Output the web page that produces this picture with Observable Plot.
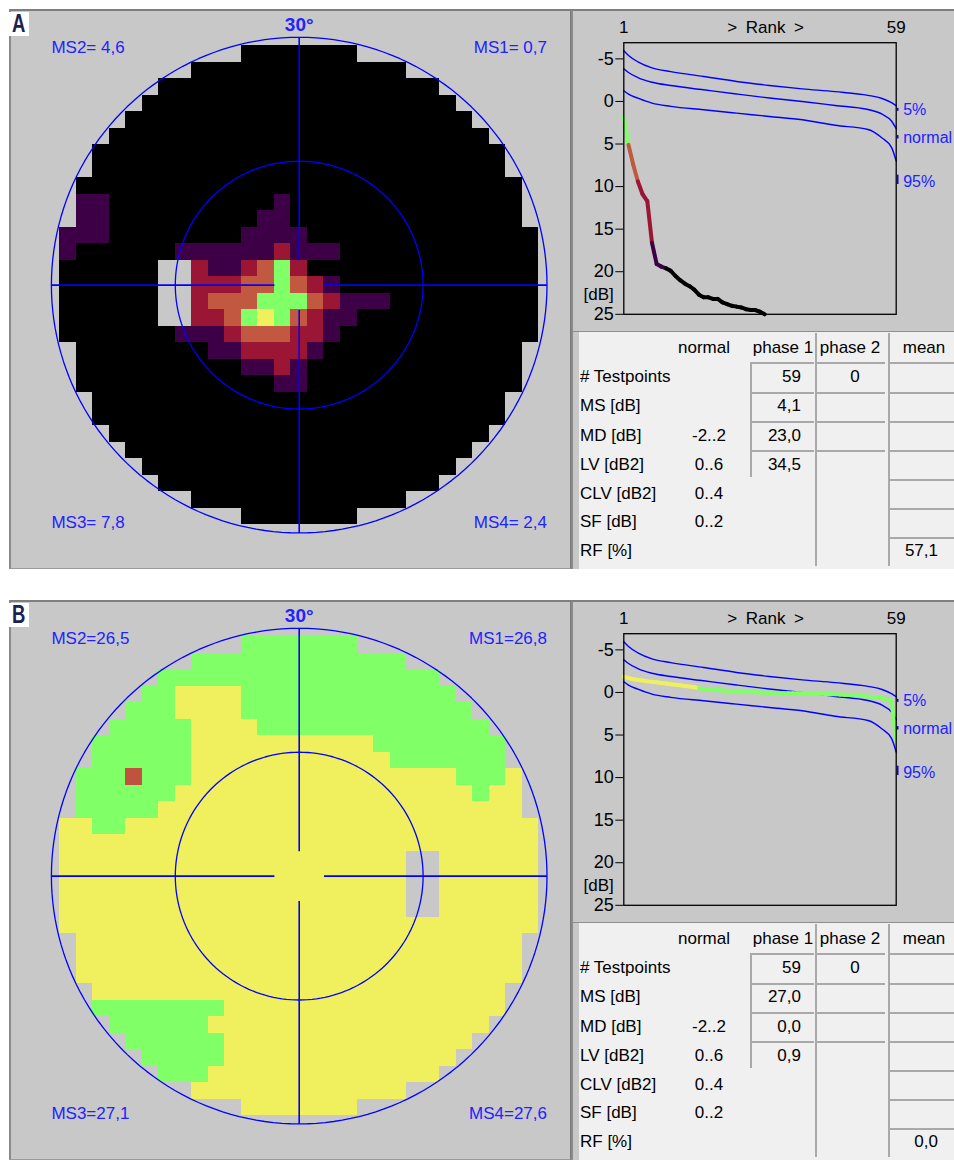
<!DOCTYPE html>
<html>
<head>
<meta charset="utf-8">
<script src="https://cdn.jsdelivr.net/npm/d3@7"></script>
<script src="https://cdn.jsdelivr.net/npm/@observablehq/plot@0.6"></script>
<style>
html,body{margin:0;padding:0;background:#fff;}
#root{position:relative;width:954px;height:1162px;overflow:hidden;background:#fff;font-family:"Liberation Sans",Arial,Helvetica,sans-serif;}
.b{position:absolute;box-sizing:border-box;}
.t{position:absolute;white-space:nowrap;font-size:17px;line-height:22px;height:22px;color:#000;}
svg{display:block;}
</style>
</head>
<body>
<div id="root"></div>
<script>
// ---------------- DATA ----------------
const panelLetters = ["A", "B"];

// Visual-field grid (29 x 29 cells of 2°), run-length rows: count + code
// K black, P purple, R crimson, O orange, G green, Y yellow, X red-brown, . no test (grey)
const mapRowsA = [
  "11. 7K 11.", "8. 13K 8.", "6. 17K 6.", "5. 19K 5.", "4. 21K 4.", "3. 23K 3.",
  "2. 25K 2.", "2. 25K 2.", "1. 27K 1.",
  "1. 2P 10K 1P 14K 1.",
  "1. 2P 9K 2P 14K 1.",
  "3P 8K 4P 14K",
  "1P 6K 6P 1R 3P 12K",
  "6K 2. 1R 2P 1R 1O 1G 1R 14K",
  "6K 2. 3R 2O 1G 1O 1R 1P 12K",
  "6K 2. 1R 3O 3G 1O 1R 3P 9K",
  "6K 2. 2R 1O 1G 1Y 1G 1O 1R 2P 11K",
  "7K 3P 1R 3O 2R 1P 12K",
  "1. 8K 2P 4R 1P 12K 1.",
  "1. 10K 2P 1R 1P 13K 1.",
  "1. 12K 2P 13K 1.",
  "2. 25K 2.", "2. 25K 2.", "3. 23K 3.", "4. 21K 4.", "5. 19K 5.", "6. 17K 6.",
  "8. 13K 8.", "11. 7K 11."
];
const mapRowsB = [
  "11. 7G 11.", "8. 13G 8.", "6. 17G 6.",
  "5. 2G 4Y 13G 5.",
  "4. 3G 4Y 14G 4.",
  "3. 5G 4Y 14G 3.",
  "2. 6G 11Y 8G 2.",
  "2. 6G 12Y 7G 2.",
  "1. 3G 1X 3G 16Y 3G 1Y 1.",
  "1. 6G 18Y 1G 2Y 1.",
  "1. 5G 22Y 1.",
  "2Y 2G 25Y",
  "29Y",
  "21Y 2. 6Y", "21Y 2. 6Y", "21Y 2. 6Y", "21Y 2. 6Y",
  "29Y",
  "1. 27Y 1.", "1. 27Y 1.", "1. 27Y 1.",
  "2. 25Y 2.",
  "2. 8G 17Y 2.",
  "3. 6G 17Y 3.",
  "4. 6G 15Y 4.",
  "5. 5G 14Y 5.",
  "6. 3G 14Y 6.",
  "8. 13Y 8.", "11. 7Y 11."
];
const mapCodes = ["K", "P", "R", "O", "G", "Y", "X"];
const mapCodeColors = ["#000000", "#3d0046", "#9b1535", "#c1583f", "#80ff66", "#f0f05e", "#c0533f"];

const quadrantLabelsA = ["MS1= 0,7", "MS2= 4,6", "MS3= 7,8", "MS4= 2,4"];
const quadrantLabelsB = ["MS1=26,8", "MS2=26,5", "MS3=27,1", "MS4=27,6"];
const eccentricityLabel = "30°";
const ringRadii = [15, 30];

// Rank (Bebie) curves
const refRanks  = [1, 2, 4, 7, 11, 18, 25, 32, 39, 46, 53, 56, 58, 59];
const ref5      = [-5.95, -5.4, -4.65, -3.95, -3.5, -2.93, -2.35, -1.88, -1.48, -1.15, -0.72, -0.35, 0.15, 0.5];
const refNormal = [-3.85, -3.4, -2.8, -2.25, -1.87, -1.37, -0.87, -0.4, 0.0, 0.47, 0.95, 1.5, 2.3, 3.2];
const ref95     = [-1.25, -0.85, -0.38, 0.2, 0.58, 0.98, 1.37, 1.76, 2.15, 2.8, 3.3, 4.3, 5.4, 7.0];
const refNames  = ["5%", "normal", "95%"];
const refLabelY = [1.0, 4.3, 9.5];
const refMarkY1 = [0.75, 3.95, 8.6];
const refMarkY2 = [1.1, 4.35, 9.7];
const yTicks = [-5, 0, 5, 10, 15, 20, 25];
const rankTitle = ">\u2002Rank\u2002>";
const rankEnds = [1, 59];

// patient A: ranks 1..31 visible (the rest lie beyond 25 dB)
const patientA = [1.8, 5.1, 7.4, 9.4, 10.9, 11.7, 16.6, 19.1, 19.4, 19.6, 19.9, 20.5, 21.0, 21.4, 21.7,
                  22.1, 22.7, 23.0, 23.0, 23.2, 23.2, 23.6, 23.8, 24.0, 24.1, 24.2, 24.4, 24.5, 24.5, 24.7, 25.0];
const patientClassA = "2G 2O 3R 3P 21K";
const patientB = [-1.85, -1.7, -1.55, -1.47, -1.4, -1.3, -1.25, -1.2, -1.1, -1.05,
                  -0.95, -0.9, -0.85, -0.75, -0.7, -0.6, -0.5, -0.4, -0.35, -0.3,
                  -0.27, -0.22, -0.18, -0.12, -0.1, -0.08, -0.06, -0.04, -0.02, 0.0,
                  0.02, 0.04, 0.06, 0.07, 0.08, 0.08, 0.09, 0.1, 0.1, 0.12,
                  0.13, 0.14, 0.15, 0.17, 0.2, 0.22, 0.25, 0.28, 0.3, 0.34,
                  0.38, 0.42, 0.48, 0.55, 0.6, 0.68, 0.78, 1.0, 5.5];
const patientClassB = "17Y 42G";

// Table
const tableHeaders = ["normal", "phase 1", "phase 2", "mean"];
const tableRows = ["# Testpoints", "MS [dB]", "MD [dB]", "LV [dB2]", "CLV [dB2]", "SF [dB]", "RF [%]"];
const tableNormal = ["", "", "-2..2", "0..6", "0..4", "0..2", ""];
const phase1A = ["59", "4,1", "23,0", "34,5"];
const phase1B = ["59", "27,0", "0,0", "0,9"];
const phase2A = ["0"];
const phase2B = ["0"];
const meanA = ["", "", "", "", "", "", "57,1"];
const meanB = ["", "", "", "", "", "", "0,0"];

// ---------------- RENDER ----------------
const FONT = '"Liberation Sans", Arial, Helvetica, sans-serif';
const BLUE = "#0000ff";
const TBLUE = "#2222ff";
const root = document.getElementById("root");

function rle(s) {
  const out = [];
  s.split(" ").forEach(tok => {
    const n = parseInt(tok, 10);
    const code = tok.replace(/^\d+/, "");
    for (let i = 0; i < n; i++) out.push(code);
  });
  return out;
}
function box(left, top, w, h, css) {
  const d = document.createElement("div");
  d.className = "b";
  d.style.cssText += `left:${left}px;top:${top}px;width:${w}px;height:${h}px;${css || ""}`;
  root.appendChild(d);
  return d;
}
function place(el, left, top) {
  el.style.position = "absolute";
  el.style.left = left + "px";
  el.style.top = top + "px";
  el.style.maxWidth = "none";
  root.appendChild(el);
}
function txt(x, yc, s, anchor, extra) {
  const d = document.createElement("div");
  d.className = "t";
  let left = x, css = "";
  if (anchor === "end") { left = x - 200; css = "width:200px;text-align:right;"; }
  else if (anchor === "middle") { left = x - 100; css = "width:200px;text-align:center;"; }
  d.style.cssText += `left:${left}px;top:${yc - 11}px;${css}${extra || ""}`;
  d.textContent = s;
  root.appendChild(d);
}

function drawMap(rows, labels) {
  const cells = [];
  rows.forEach((s, r) => {
    rle(s).forEach((code, c) => {
      const k = mapCodes.indexOf(code);
      if (k >= 0) cells.push({col: c, row: r, fill: mapCodeColors[k]});
    });
  });
  const rings = [];
  for (const R of ringRadii)
    for (let a = 0; a <= 360; a += 2)
      rings.push({R, x: R * Math.cos(a * Math.PI / 180), y: R * Math.sin(a * Math.PI / 180)});
  const cross = [
    {x1: -30, y1: 0, x2: -3, y2: 0}, {x1: 3, y1: 0, x2: 30, y2: 0},
    {x1: 0, y1: 30, x2: 0, y2: 3}, {x1: 0, y1: -3, x2: 0, y2: -30}
  ];
  const quadPos = [{x: 30, y: 28.7}, {x: -30, y: 28.7}, {x: -30, y: -28.7}, {x: 30, y: -28.7}];
  const quads = labels.map((t, i) => ({t, ...quadPos[i]}));
  return Plot.plot({
    width: 561, height: 560,
    marginLeft: 41.9, marginRight: 23.5, marginTop: 27.8, marginBottom: 36.6,
    x: {domain: [-30, 30], axis: null},
    y: {domain: [-30, 30], axis: null},
    color: {type: "identity"},
    style: {background: "transparent", overflow: "visible", fontFamily: FONT},
    marks: [
      Plot.rect(cells, {
        x1: d => 2 * d.col - 29, x2: d => 2 * d.col - 27,
        y1: d => 29 - 2 * d.row, y2: d => 27 - 2 * d.row,
        fill: "fill", shapeRendering: "crispEdges"
      }),
      Plot.line(rings, {x: "x", y: "y", z: "R", stroke: BLUE, strokeWidth: 1.3}),
      Plot.link(cross, {x1: "x1", y1: "y1", x2: "x2", y2: "y2", stroke: BLUE, strokeWidth: 1.6}),
      Plot.text([{t: eccentricityLabel, x: 0, y: 31.5}], {x: "x", y: "y", text: "t", fontSize: 19, fontWeight: "bold", fill: TBLUE}),
      Plot.text(quads.filter(d => d.x < 0), {x: "x", y: "y", text: "t", textAnchor: "start", fontSize: 17, fill: TBLUE}),
      Plot.text(quads.filter(d => d.x > 0), {x: "x", y: "y", text: "t", textAnchor: "end", fontSize: 17, fill: TBLUE})
    ]
  });
}

const classColor = {G: "#80ff66", O: "#c1583f", R: "#9b1535", P: "#3d0046", K: "#000000", Y: "#f0f05e"};

function drawRank(values, classRle) {
  const cls = rle(classRle);
  const segs = [];
  for (let i = 1; i < values.length; i++)
    segs.push({x1: i, y1: values[i - 1], x2: i + 1, y2: values[i], stroke: classColor[cls[i]]});
  const refs = [];
  [ref5, refNormal, ref95].forEach((arr, j) => arr.forEach((v, i) => refs.push({name: refNames[j], rank: refRanks[i], v})));
  const refLab = refNames.map((t, i) => ({t, y: refLabelY[i], y1: refMarkY1[i], y2: refMarkY2[i]}));
  return Plot.plot({
    width: 382, height: 322.5,
    marginLeft: 51.3, marginRight: 58.3, marginTop: 33.2, marginBottom: 17.7,
    x: {domain: [1, 59], axis: null},
    y: {domain: [-6.9, 25], reverse: true, ticks: yTicks, tickSize: 8, tickPadding: 2, tickFormat: d => String(d), label: null},
    color: {type: "identity"},
    style: {background: "transparent", overflow: "visible", fontFamily: FONT, fontSize: "18px", color: "#000"},
    marks: [
      Plot.line(refs, {x: "rank", y: "v", z: "name", stroke: BLUE, strokeWidth: 1.4, curve: "monotone-x"}),
      Plot.link(segs, {x1: "x1", y1: "y1", x2: "x2", y2: "y2", stroke: "stroke", strokeWidth: 4, strokeLinecap: "round"}),
      Plot.frame({stroke: "#000", strokeWidth: 1.3}),
      Plot.text(rankEnds, {x: d => d, text: d => String(d), frameAnchor: "top", lineAnchor: "middle", dy: -15, fontSize: 17, fill: "#000"}),
      Plot.text([rankTitle], {x: 31.2, text: d => d, frameAnchor: "top", lineAnchor: "middle", dy: -15, fontSize: 17, fill: "#000"}),
      Plot.text(["[dB]"], {y: 22.7, text: d => d, frameAnchor: "left", dx: -10, textAnchor: "end", fontSize: 17, fill: "#000"}),
      Plot.link(refLab, {x1: 59, x2: 59, y1: "y1", y2: "y2", dx: 1.5, stroke: BLUE, strokeWidth: 1.6}),
      Plot.text(refLab, {x: 59, y: "y", text: "t", dx: 7, textAnchor: "start", fontSize: 16, fill: TBLUE})
    ]
  });
}

const rowTop = [362.3, 391.7, 421, 450, 479, 507.7, 536.5];

function drawPanel(i) {
  const o = i === 0 ? 0 : 591;
  const mapRows = i === 0 ? mapRowsA : mapRowsB;
  const quads = i === 0 ? quadrantLabelsA : quadrantLabelsB;
  const pat = i === 0 ? patientA : patientB;
  const patCls = i === 0 ? patientClassA : patientClassB;
  const p1 = i === 0 ? phase1A : phase1B;
  const p2 = i === 0 ? phase2A : phase2B;
  const mean = i === 0 ? meanA : meanB;

  // map panel
  box(9, 8.5 + o, 562, 560.5, "background:#c8c8c8;border-top:2px solid #7e7e7e;border-left:2px solid #8a8a8a;border-right:1px solid #7a7a7a;border-bottom:1px solid #9a9a9a;");
  place(drawMap(mapRows, quads), 9, 9 + o);

  // panel letter
  const lb = box(9, 11.5 + o, 19.5, 24, "background:#fff;overflow:visible;");
  const sp = document.createElement("div");
  sp.textContent = panelLetters[i];
  sp.style.cssText = `position:absolute;left:2.5px;top:-0.5px;font:bold 25px/25px ${FONT};color:#1c2152;transform:scaleX(0.74);transform-origin:0 0;`;
  lb.appendChild(sp);

  // right column background (rank panel + table)
  box(571, 8.5 + o, 383, 560.5, "background:#c8c8c8;border-top:2px solid #7e7e7e;border-left:2px solid #8a8a8a;");
  place(drawRank(pat, patCls), 572, 8.5 + o);

  // table area
  box(573, 330.5 + o, 381, 1.5, "background:#8e8e8e;");
  box(579, 332 + o, 375, 236.5, "background:#f0f0f0;");
  const LINE = "background:#a9a9a9;";
  // phase 1 cells
  for (let r = 0; r < 4; r++) box(750, rowTop[r] + o, 64, 2, LINE);
  box(750, rowTop[0] + o, 2, 477 - rowTop[0], LINE);
  // phase 2 column
  box(815, 333 + o, 2, 233, LINE);
  for (let r = 0; r < 4; r++) box(817, rowTop[r] + o, 68, 2, LINE);
  // mean column
  box(888, 333 + o, 2, 233, LINE);
  for (let r = 0; r < 7; r++) box(890, rowTop[r] + o, 64, 2, LINE);

  // texts
  const hx = [704, 783, 850, 924];
  tableHeaders.forEach((h, k) => txt(hx[k], 348.3 + o, h, "middle"));
  tableRows.forEach((t, r) => {
    const yc = rowTop[r] + 14.5 + o;
    txt(580, yc, t, "start");
    if (tableNormal[r]) txt(709, yc, tableNormal[r], "middle");
    if (p1[r]) txt(801, yc, p1[r], "end");
    if (p2[r]) txt(855, yc, p2[r], "middle");
    if (mean[r]) txt(938, yc, mean[r], "end");
  });
}

drawPanel(0);
drawPanel(1);
</script>
</body>
</html>
